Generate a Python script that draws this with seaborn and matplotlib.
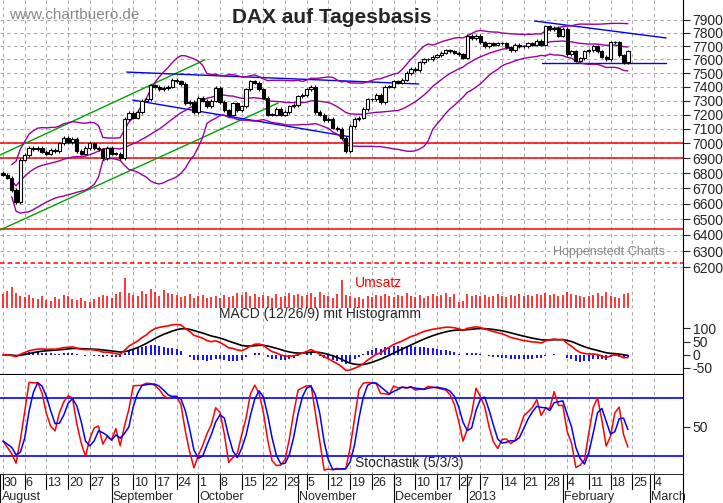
import numpy as np
import pandas as pd
import matplotlib
matplotlib.use("Agg")
import matplotlib.pyplot as plt
import seaborn as sns
from matplotlib.ticker import FixedLocator, NullLocator

sns.set_style("white")
plt.rcParams["font.family"] = "Liberation Sans"

# ---------------- data ----------------
closes = [
    6790, 6770, 6690, 6610, 6890,
    6920, 6970, 6960, 6970, 6945,
    6930, 6955, 6950, 7000, 7040,
    7010, 7030, 6950, 6930, 6970,
    7000, 6970, 6960, 6900, 6970,
    6930, 6930, 6900, 7170, 7215,
    7180, 7220, 7300, 7310, 7410,
    7400, 7380, 7390, 7400, 7450,
    7440, 7420, 7280, 7290, 7220,
    7320, 7300, 7260, 7300, 7390,
    7290, 7230, 7200, 7280, 7230,
    7260, 7380, 7440, 7430, 7380,
    7320, 7200, 7200, 7240, 7200,
    7220, 7260, 7270, 7330, 7340,
    7380, 7400, 7220, 7200, 7160,
    7170, 7110, 7100, 7040, 6950,
    7120, 7170, 7180, 7240, 7310,
    7310, 7340, 7290, 7400, 7400,
    7440, 7430, 7450, 7500, 7530,
    7520, 7580, 7600, 7600, 7620,
    7630, 7650, 7670, 7660, 7650,
    7640, 7612,
    7780, 7760, 7780,
    7730, 7700, 7720, 7710, 7720,
    7720, 7690, 7670, 7710, 7700,
    7700, 7720, 7710, 7740, 7710,
    7850, 7830, 7840, 7780, 7830,
    7640, 7660, 7590, 7610, 7660,
    7670, 7700, 7660, 7620, 7600,
    7730, 7730, 7630, 7580, 7660,
]
first_open = 6800
volumes = [
    14, 17, 21, 15, 12, 11, 13, 10, 9, 12,
    8, 7, 11, 9, 13, 12, 9, 8, 10, 7,
    6, 9, 11, 13, 12, 10, 14, 16, 30, 15,
    13, 12, 17, 14, 19, 16, 12, 18, 15, 14,
    13, 11, 12, 14, 10, 12, 13, 10, 11, 12,
    10, 13, 11, 12, 15, 13, 16, 12, 14, 11,
    13, 12, 10, 14, 11, 12, 15, 13, 14, 12,
    13, 15, 11, 16, 13, 12, 10, 14, 28, 13,
    12, 10, 11, 9, 12, 11, 13, 12, 14, 12,
    11, 13, 12, 15, 12, 11, 13, 10, 12, 14,
    12, 13, 15, 11, 14,
    6, 7,
    14, 12, 13,
    12, 13, 11, 12, 14, 12, 11, 13, 12, 14,
    12, 13, 12, 14, 13, 15, 13, 14, 12, 13,
    16, 14, 13, 12, 11, 12, 13, 15, 12, 16,
    12, 11, 10, 14, 15,
]
holidays = ["2012-12-24", "2012-12-25", "2012-12-26", "2012-12-31", "2013-01-01"]
dates = pd.bdate_range("2012-07-30", "2013-02-22")
dates = dates[~dates.isin(pd.to_datetime(holidays))]
future_dates = pd.bdate_range("2013-02-25", "2013-03-08")

# annotation lines (index, price)
green_upper = [(-0.7, 6921), (46.5, 7597)]
green_lower = [(-0.7, 6431), (63.4, 7283)]
blue_upper = [(28.5, 7507), (95.8, 7420)]
blue_lower = [(29.9, 7304), (80.3, 7044)]
blue_top_right = [(122.5, 7892), (152.8, 7762)]
blue_support = [(124.3, 7574), (152.8, 7574)]
red_levels = [7000, 6900, 6440]
red_dashed = 6226
price_ticks = list(range(6200, 8000, 100))

# ---------------- derived ----------------
n = len(closes)
idx = np.arange(n)
df = pd.DataFrame({"i": idx, "close": closes, "vol": volumes[:n]}, index=dates[:n])
df["open"] = df["close"].shift(1).fillna(first_open)
df["high"] = df[["open", "close"]].max(axis=1) + 12
df["low"] = df[["open", "close"]].min(axis=1) - 12
mid = df["close"].rolling(20, min_periods=3).mean()
sd = df["close"].rolling(20, min_periods=3).std()
df["bb_mid"], df["bb_up"], df["bb_lo"] = mid, mid + 2 * sd, mid - 2 * sd
ema12 = df["close"].ewm(span=12).mean()
ema26 = df["close"].ewm(span=26).mean()
df["macd"] = ema12 - ema26
df["signal"] = df["macd"].ewm(span=9).mean()
df["hist"] = df["macd"] - df["signal"]
ll = df["low"].rolling(5, min_periods=1).min()
hh = df["high"].rolling(5, min_periods=1).max()
rawk = 100 * (df["close"] - ll) / (hh - ll)
df["k"] = rawk.rolling(3, min_periods=1).mean()
df["d"] = df["k"].rolling(3, min_periods=1).mean()

W, H = 723, 503
fig = plt.figure(figsize=(W / 100, H / 100), dpi=100)
XL = (-0.7, 156.7)
PW = 683 / W

def ax_at(top, bottom):
    return fig.add_axes([0, 1 - bottom / H, PW, (bottom - top) / H])

axp = ax_at(0, 270)
axv = ax_at(270, 308)
axm = ax_at(308, 375)
axs = ax_at(375, 475)
axd = ax_at(475, 503)

all_dates = dates[:n].append(future_dates)
week_pos, week_lab, month_pos, month_lab = [], [], [], []
prev_week, prev_month = None, None
for j, d in enumerate(all_dates):
    wk = d.isocalendar()[1]
    if wk != prev_week and not (d.month == 1 and d.day == 2):
        week_pos.append(j); week_lab.append(str(d.day))
    if d.month != prev_month and j > 0:
        month_pos.append(j); month_lab.append("2013" if d.month == 1 else d.strftime("%B"))
    prev_week, prev_month = wk, d.month
# first month shown at the left edge
month_pos[0] = -0.6

for a in (axp, axv, axm, axs, axd):
    a.set_xlim(*XL)
    a.set_facecolor("white")
    for s in ("top", "left", "bottom"):
        a.spines[s].set_visible(False)
    a.spines["right"].set_color("black")
    a.xaxis.set_major_locator(NullLocator())
    a.yaxis.tick_right()
    a.tick_params(axis="y", labelsize=10, length=5, direction="out", pad=2)
    if a is not axd:
        for p in week_pos:
            a.axvline(p, color="#aaaaaa", ls=(0, (3, 3)), lw=0.8, zorder=0)

# price panel
axp.set_yscale("log")
axp.set_ylim(6184, 8056)
axp.yaxis.set_major_locator(FixedLocator(price_ticks))
axp.yaxis.set_minor_locator(NullLocator())
axp.set_yticklabels([str(t) for t in price_ticks])
for t in price_ticks:
    axp.axhline(t, color="#aaaaaa", ls=(0, (3, 3)), lw=0.8, zorder=0)
for lv in red_levels:
    axp.axhline(lv, color="red", lw=1.1, zorder=1)
axp.axhline(red_dashed, color="red", lw=1.1, ls=(0, (3, 2)), zorder=1)
for ln, c in [(green_upper, "#00a000"), (green_lower, "#00a000"), (blue_upper, "blue"),
              (blue_lower, "blue"), (blue_top_right, "blue"), (blue_support, "blue")]:
    axp.plot([p[0] for p in ln], [p[1] for p in ln], color=c, lw=1.0, zorder=2)
for col in ("bb_up", "bb_mid", "bb_lo"):
    sns.lineplot(x=df["i"], y=df[col], ax=axp, color="#9b009b", lw=1.0, zorder=3)
axp.vlines(df["i"], df["low"], df["high"], color="black", lw=0.8, zorder=4)
up = df["close"] >= df["open"]
body_lo = df[["open", "close"]].min(axis=1)
body_h = (df["close"] - df["open"]).abs().clip(lower=3)
axp.bar(df["i"][up], body_h[up], bottom=body_lo[up], width=0.75, color="white",
        edgecolor="black", lw=0.8, zorder=5)
axp.bar(df["i"][~up], body_h[~up], bottom=body_lo[~up], width=0.75, color="black",
        edgecolor="black", lw=0.8, zorder=5)
axp.set_xlabel(""); axp.set_ylabel("")
axp.text(0.013, 0.93, "www.chartbuero.de", transform=axp.transAxes, color="#888888", fontsize=11)
axp.text(0.34, 0.915, "DAX auf Tagesbasis", transform=axp.transAxes, fontsize=15, fontweight="bold")
axp.text(0.81, 0.055, "Hoppenstedt Charts", transform=axp.transAxes, color="#888888", fontsize=9)

# volume
axv.vlines(df["i"], 0, df["vol"], color="red", lw=1.1, zorder=2)
axv.set_ylim(0, 38)
axv.yaxis.set_major_locator(NullLocator())
axv.text(0.52, 0.55, "Umsatz", transform=axv.transAxes, color="red", fontsize=10)

# MACD
axm.set_ylim(-77, 178)
axm.vlines(df["i"], 0, df["hist"], color="blue", lw=1.3, zorder=2)
sns.lineplot(x=df["i"], y=df["signal"], ax=axm, color="black", lw=1.2, zorder=3)
sns.lineplot(x=df["i"], y=df["macd"], ax=axm, color="red", lw=1.2, zorder=4)
axm.yaxis.set_major_locator(FixedLocator([-50, 0, 50, 100]))
axm.set_yticklabels(["-50", "0", "50", "100"])
axm.set_xlabel(""); axm.set_ylabel("")
axm.text(0.32, 0.85, "MACD (12/26/9) mit Histogramm", transform=axm.transAxes, fontsize=10)
axm.axhline(-77, color="black", lw=1.5)

# Stochastics
axs.set_ylim(0, 104)
axs.axhline(80, color="blue", lw=1.2)
axs.axhline(20, color="blue", lw=1.2)
sns.lineplot(x=df["i"], y=df["k"], ax=axs, color="red", lw=1.1)
sns.lineplot(x=df["i"], y=df["d"], ax=axs, color="blue", lw=1.1)
axs.yaxis.set_major_locator(FixedLocator([50]))
axs.set_yticklabels(["50"])
axs.set_xlabel(""); axs.set_ylabel("")
axs.text(0.52, 0.08, "Stochastik (5/3/3)", transform=axs.transAxes, fontsize=10)
axs.axhline(0, color="black", lw=1.2)

# date axis
axd.set_ylim(0, 1)
axd.yaxis.set_major_locator(NullLocator())
for p, l in zip(week_pos, week_lab):
    axd.plot([p, p], [0.5, 1], color="black", lw=0.8)
    axd.text(p + 0.2, 0.7, l, fontsize=9, va="center", ha="left")
for p, l in zip(month_pos, month_lab):
    axd.plot([p, p], [0, 1], color="black", lw=0.8)
    axd.text(p + 0.3, 0.2, l, fontsize=9, va="center", ha="left")

fig.savefig("out.png", dpi=100)
